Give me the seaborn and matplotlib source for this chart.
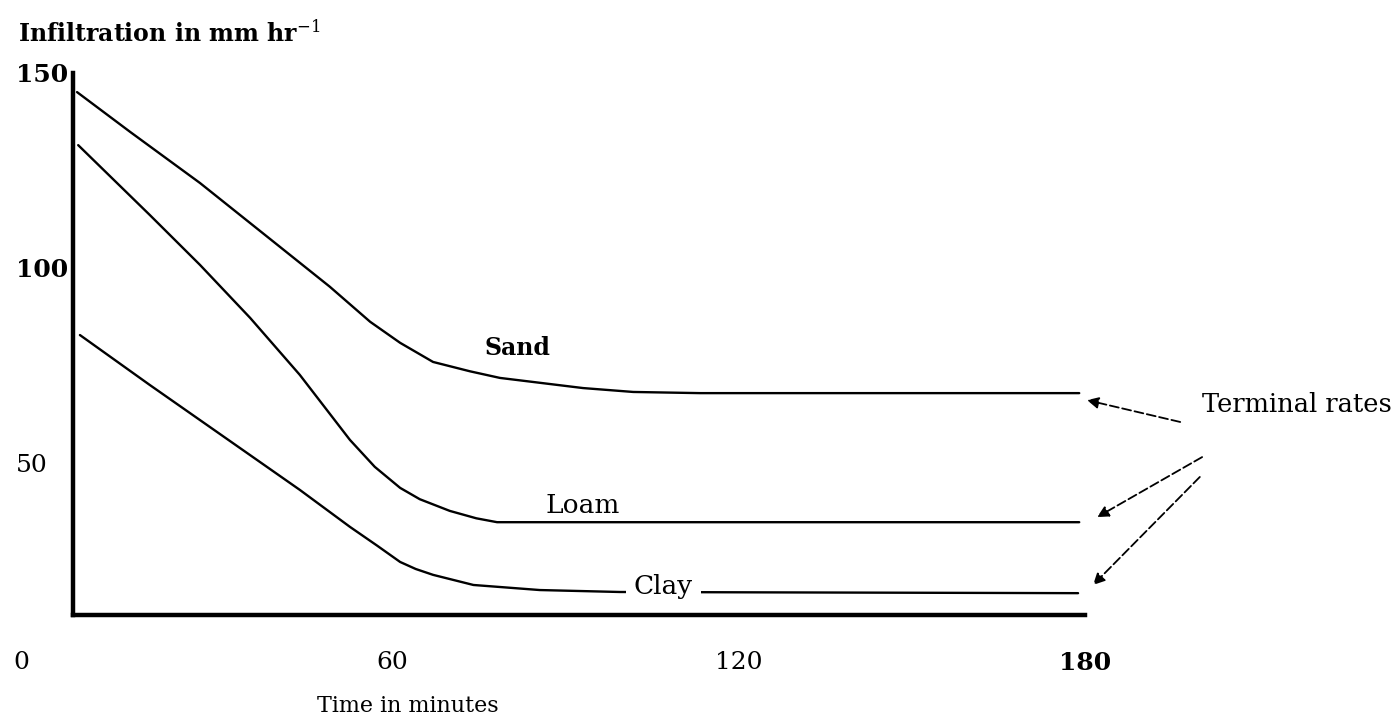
import matplotlib
matplotlib.use("Agg")
import matplotlib.pyplot as plt
import numpy as np
import pandas as pd
import seaborn as sns

# Infiltration curves (time in minutes, rate in mm/hr)
sand_time = [5.3, 14.5, 26.6, 38.7, 49.1, 56.1, 61.3, 67.0, 73.4, 78.6, 93.0, 101.7, 113.3, 179.0]
sand_rate = [145.1, 134.9, 121.8, 107.5, 95.2, 86.2, 80.8, 75.9, 73.5, 71.8, 69.2, 68.2, 67.9, 67.9]

loam_time = [5.5, 17.9, 26.6, 35.3, 43.9, 52.6, 56.9, 61.3, 64.7, 69.9, 74.5, 78.1, 179.0]
loam_rate = [131.5, 113.6, 100.8, 87.2, 72.6, 55.9, 49.0, 43.6, 40.7, 37.7, 35.8, 34.8, 34.8]

clay_time = [5.8, 17.9, 26.6, 35.3, 43.9, 52.6, 57.3, 61.3, 64.0, 67.0, 74.0, 85.5, 99.4, 178.8]
clay_rate = [82.8, 70.0, 61.0, 52.0, 43.1, 33.6, 28.8, 24.6, 22.8, 21.3, 18.7, 17.4, 16.9, 16.6]

soils = ["Sand", "Loam", "Clay"]

x_ticks = [60, 120, 180]
x_tick_labels = ["60", "120", "180"]
y_ticks = [50, 100, 150]
y_tick_labels = ["50", "100", "150"]

df = pd.concat([
    pd.DataFrame({"time": sand_time, "rate": sand_rate, "soil": "Sand"}),
    pd.DataFrame({"time": loam_time, "rate": loam_rate, "soil": "Loam"}),
    pd.DataFrame({"time": clay_time, "rate": clay_rate, "soil": "Clay"}),
], ignore_index=True)

sns.set_style("white")
plt.rcParams["font.family"] = ["DejaVu Serif"]
plt.rcParams["mathtext.fontset"] = "dejavuserif"
plt.rcParams["text.color"] = "black"
plt.rcParams["axes.labelcolor"] = "black"
plt.rcParams["xtick.color"] = "black"
plt.rcParams["ytick.color"] = "black"

fig = plt.figure(figsize=(14, 7.18), dpi=100)
ax = fig.add_axes([73 / 1400, 103 / 718, 1012 / 1400, 542 / 718])

sns.lineplot(data=df, x="time", y="rate", hue="soil", hue_order=soils,
             palette={s: "black" for s in soils}, linewidth=1.7,
             legend=False, ax=ax)

ax.set_xlim(4.6, 180)
ax.set_ylim(11, 150)

for side in ["top", "right"]:
    ax.spines[side].set_visible(False)
for side in ["left", "bottom"]:
    ax.spines[side].set_linewidth(3.2)
    ax.spines[side].set_color("black")

ax.set_xticks(x_ticks)
ax.set_xticklabels(x_tick_labels, fontsize=18)
ax.set_yticks(y_ticks)
ax.set_yticklabels(y_tick_labels, fontsize=18)
ax.tick_params(axis="both", length=0)
ax.tick_params(axis="y", pad=41)
ax.tick_params(axis="x", pad=26)
for lab in ax.get_yticklabels():
    lab.set_horizontalalignment("left")
    if lab.get_text() in ("100", "150"):
        lab.set_fontweight("bold")
for lab in ax.get_xticklabels():
    if lab.get_text() == "180":
        lab.set_fontweight("bold")

# origin label sits below-left of the corner
ax.annotate("0", xy=(4.6, 11), xytext=(-37, -26), textcoords="offset points",
            ha="center", va="top", fontsize=18, annotation_clip=False)

ax.set_xlabel("Time in minutes", fontsize=16)
ax.xaxis.set_label_coords(0.331, -0.179)
ax.xaxis.label.set_va("baseline")

ax.set_ylabel("Infiltration in mm hr$^{-1}$", fontsize=17, fontweight="bold",
              rotation=0)
ax.yaxis.set_label_coords(-0.0543, 1.0572)
ax.yaxis.label.set_ha("left")
ax.yaxis.label.set_va("baseline")

# curve labels
ax.text(81.6, 79.5, "Sand", fontsize=17, fontweight="bold", ha="center", va="center")
ax.text(93.0, 39.2, "Loam", fontsize=19, ha="center", va="center")
ax.text(106.9, 18.2, "Clay", fontsize=19, ha="center", va="center",
        bbox=dict(boxstyle="square,pad=0.3", fc="white", ec="none"), zorder=4)

# terminal-rate callout
ax.text(200.3, 64.9, "Terminal rates", fontsize=18.5, ha="left", va="center",
        clip_on=False)
arrow_tails = [(196.5, 60.5), (200.3, 51.5), (199.9, 46.4)]
arrow_heads = [(180.35, 66.1), (182.1, 36.1), (181.4, 18.7)]
for tail, head in zip(arrow_tails, arrow_heads):
    ax.annotate("", xy=head, xytext=tail, annotation_clip=False,
                arrowprops=dict(arrowstyle="-|>", color="black", lw=1.3,
                                linestyle=(0, (5, 2)), mutation_scale=17,
                                shrinkA=0, shrinkB=0))

fig.savefig("out.png", dpi=100, facecolor="white")
